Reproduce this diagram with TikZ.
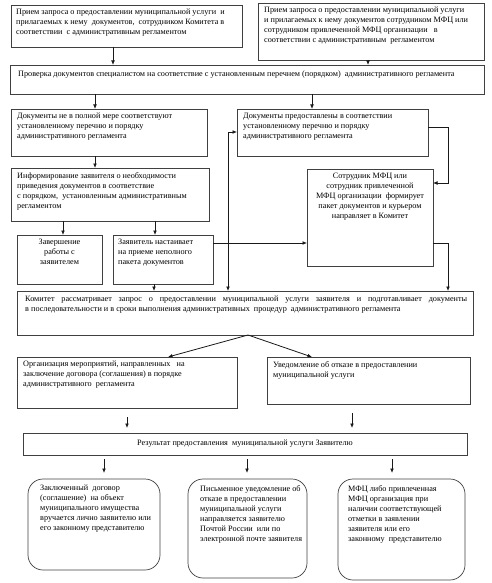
\documentclass[tikz,border=0pt]{standalone}
\usepackage{fontspec}
\setmainfont{Liberation Serif}
\usetikzlibrary{arrows.meta,calc}
\newcommand{\mkbox}[6][]{\node[box,#1,anchor=north west,minimum width={(#5)-(#3)},minimum height={(#6)-(#4)}] (#2) at (#3,#4) {};}
\begin{document}
\begin{tikzpicture}[x=1pt,y=-1pt,
  box/.style={draw=black!75,line width=0.7pt,inner sep=0pt,outer sep=0pt},
  txt/.style={inner sep=0pt,anchor=north west,align=left,font=\fontsize{8.2}{10}\selectfont,text=black},
  ctxt/.style={inner sep=0pt,anchor=north,align=center,font=\fontsize{8.2}{10}\selectfont,text=black},
  arr/.style={-{Latex[length=4.5pt,width=3.8pt]},line width=0.8pt,draw=black!90},
  arrb/.style={{Latex[length=4.5pt,width=3.8pt]}-{Latex[length=4.5pt,width=3.8pt]},line width=0.8pt,draw=black!90}]
\useasboundingbox (0,0) rectangle (491,583);
% boxes
\mkbox{A1}{11}{5}{242}{47}
\mkbox{A2}{258}{3}{484}{60}
\mkbox{B}{10}{65}{484}{94}
\mkbox{C1}{11}{109}{207}{156}
\mkbox{C2}{237}{109}{428}{156}
\mkbox{E}{11}{168}{209}{221}
\mkbox{D}{307}{169}{433}{266}
\mkbox{F1}{17}{235}{102}{284}
\mkbox{F2}{113}{235}{213}{284}
\mkbox{G}{17}{291}{473}{335}
\mkbox{H1}{17}{357}{237}{408}
\mkbox{H2}{267}{357}{470}{404}
\mkbox{I}{23}{433}{467}{455}
\mkbox[rounded corners=15pt]{J1}{28}{479}{160}{570}
\mkbox[rounded corners=15pt]{J2}{188}{479}{307}{578}
\mkbox[rounded corners=15pt]{J3}{338}{479}{465}{580}
% texts
\node[txt] (tA1) at ([shift={(5pt,-4pt)}]A1.north west) {Прием запроса о предоставлении муниципальной услуги~ и\\прилагаемых к нему~ документов,~ сотрудником Комитета в\\соответствии~ с административным регламентом};
\node[txt] (tA2) at ([shift={(6pt,-4pt)}]A2.north west) {Прием запроса о предоставлении муниципальной услуги\\и прилагаемых к нему документов сотрудником МФЦ или\\сотрудником привлеченной МФЦ организации~~ в\\соответствии с административным~ регламентом};
\node[txt] (tB) at ([shift={(8pt,-6pt)}]B.north west) {Проверка документов специалистом на соответствие с установленным перечнем (порядком)~ административного регламента};
\node[txt] (tC1) at ([shift={(6pt,-4pt)}]C1.north west) {Документы не в полной мере соответствуют\\установленному перечню и порядку\\административного регламента};
\node[txt] (tC2) at ([shift={(6pt,-4pt)}]C2.north west) {Документы предоставлены в соответствии\\установленному перечню и порядку\\административного регламента};
\node[txt] (tE) at ([shift={(6pt,-4pt)}]E.north west) {Информирование заявителя о необходимости\\приведения документов в соответствие\\с порядком,~ установленным административным\\регламентом};
\node[ctxt] (tF1) at ([yshift=-4pt]F1.north) {Завершение\\работы с\\заявителем};
\node[txt] (tF2) at ([shift={(5pt,-4pt)}]F2.north west) {Заявитель настаивает\\на приеме неполного\\пакета документов};
\node[ctxt] (tD) at ([yshift=-4pt]D.north) {Сотрудник МФЦ или\\сотрудник привлеченной\\МФЦ организации~ формирует\\пакет документов и курьером\\направляет в Комитет};
\node[txt,text width=442pt,align=justify] (tG) at ([shift={(8pt,-5pt)}]G.north west) {Комитет рассматривает запрос о предоставлении муниципальной услуги заявителя и подготавливает документы\linebreak в последовательности и в сроки выполнения административных~ процедур~ административного регламента};
\node[txt] (tH1) at ([shift={(6pt,-4pt)}]H1.north west) {Организация мероприятий, направленных~~ на\\заключение договора (соглашения) в порядке\\административного~ регламента};
\node[txt] (tH2) at ([shift={(6pt,-4pt)}]H2.north west) {Уведомление об отказе в предоставлении\\муниципальной услуги};
\node[ctxt,anchor=center] (tI) at (I.center) {Результат предоставления~ муниципальной услуги Заявителю};
\node[txt] (tJ1) at ([shift={(12pt,-6pt)}]J1.north west) {Заключенный~ договор\\(соглашение)~ на объект\\муниципального имущества\\вручается лично заявителю или\\его законному представителю};
\node[txt] (tJ2) at ([shift={(12pt,-6pt)}]J2.north west) {Письменное уведомление об\\отказе в предоставлении\\муниципальной услуги\\направляется заявителю\\Почтой России~ или по\\электронной почте заявителя};
\node[txt] (tJ3) at ([shift={(10pt,-6pt)}]J3.north west) {МФЦ либо привлеченная\\МФЦ организация при\\наличии соответствующей\\отметки в заявлении\\заявителя или его\\законному~ представителю};
% connectors
\draw[arr] ([xshift=102pt]A1.south west) -- ([xshift=102pt]A1.south west |- B.north);
\draw[arr] ([xshift=110pt]A2.south west) -- ([xshift=110pt]A2.south west |- B.north);
\draw[arr] ([xshift=84pt]C1.north west |- B.south) -- ([xshift=84pt]C1.north west);
\draw[arr] ([xshift=75pt]C2.north west |- B.south) -- ([xshift=75pt]C2.north west);
\draw[arr] ([xshift=84pt]C1.south west) -- ([xshift=84pt]C1.south west |- E.north);
\draw[arr] ([xshift=46pt]F1.north west |- E.south) -- ([xshift=46pt]F1.north west);
\draw[arr] ([xshift=42pt]F2.north west |- E.south) -- ([xshift=42pt]F2.north west);
\draw[arr] ([xshift=41pt]F2.south west) -- ([xshift=41pt]F2.south west |- G.north);
\draw[arr] ([yshift=-8pt]F2.north east) -- ([yshift=-8pt]F2.north east -| D.west);
\coordinate (vtop) at ([shift={(-9pt,-23pt)}]C2.north west);
\draw[arrb] (vtop -| C2.west) -- (vtop) -- (vtop |- G.north);
\draw[arr] ([yshift=-18pt]C2.north east) -- ++(20pt,0pt) |- ([yshift=-14pt]D.north east);
\draw[arr] ([yshift=-74pt]D.north east) -- ++(15pt,0pt) coordinate (dk) -- (dk |- G.north);
\coordinate (gb) at ([xshift=231pt]G.south west);
\draw[arr] (gb) -- ([xshift=151pt]H1.north west);
\draw[arr] (gb) -- ([xshift=45pt]H2.north west);
\draw[arr] ([xshift=110pt]H1.south west) ++(0pt,-9pt) -- ++(0pt,-11pt);
\draw[arr] ([xshift=85pt]H2.south west) ++(0pt,-9pt) -- ++(0pt,-15pt);
\draw[arr] ([xshift=76pt]J1.north west |- I.south) ++(0pt,-4pt) -- ++(0pt,-14pt);
\draw[arr] ([xshift=59pt]J2.north west |- I.south) ++(0pt,-4pt) -- ++(0pt,-14pt);
\draw[arr] ([xshift=54pt]J3.north west |- I.south) ++(0pt,-4pt) -- ++(0pt,-14pt);
\end{tikzpicture}
\end{document}
